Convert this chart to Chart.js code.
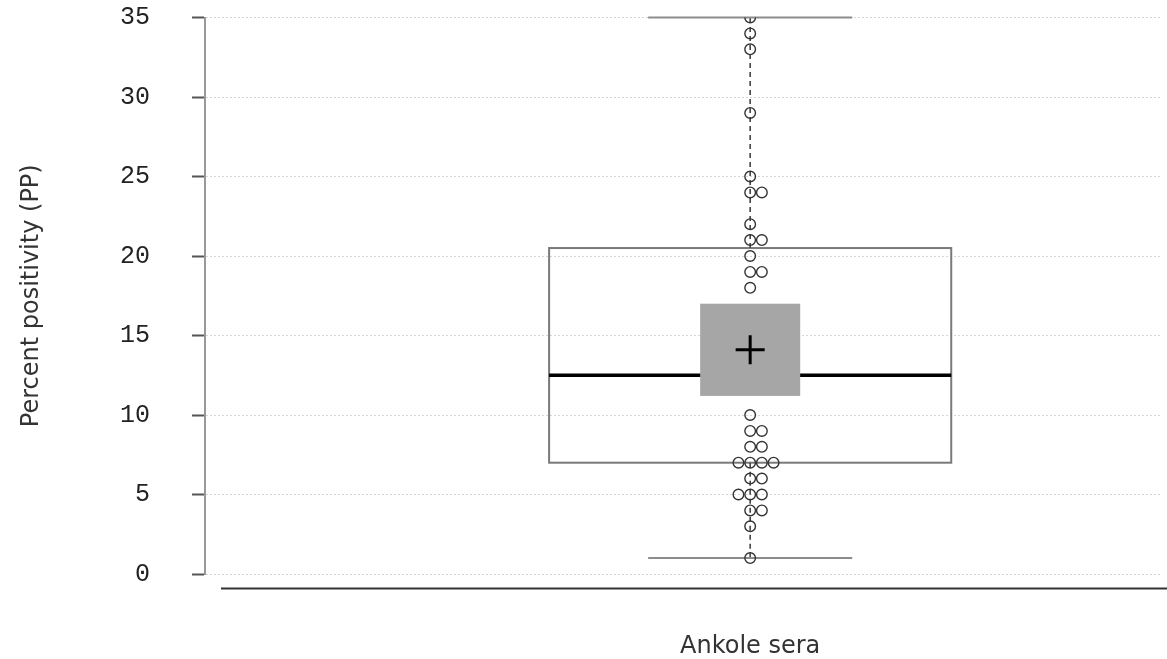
<!DOCTYPE html>
<html>
<head>
<meta charset="utf-8">
<script src="https://cdn.jsdelivr.net/npm/chart.js@4"></script>
<style>
  html, body { margin: 0; padding: 0; background: #fff; }
  canvas { display: block; }
</style>
</head>
<body>
<canvas id="chart" width="1167" height="659"></canvas>
<script>
var categories = ['Ankole sera'];
var values = [35, 34, 33, 29, 25, 24, 24, 22, 21, 21, 20, 19, 19, 18,
  10, 9, 9, 8, 8, 7, 7, 7, 7, 6, 6, 5, 5, 5, 4, 4, 3, 1];
var yTicks = [0, 5, 10, 15, 20, 25, 30, 35];

// summary
var whiskerLow = [1];
var q1 = [7];
var median = [12.5];
var q3 = [20.5];
var whiskerHigh = [35];
var mean = [14.1];
var ciLow = [11.2];
var ciHigh = [17.0];

var POINT_STEP = 0.117;
var BOX_HALF = 2.01;
var CAP_HALF = 1.02;
var CI_HALF = 0.5;
var CROSS_HALF = 0.145;

// little beeswarm: spread equal values side by side
var counts = {};
values.forEach(function(v){ counts[v] = (counts[v] || 0) + 1; });
var seen = {};
var points = values.map(function(v){
  var i = seen[v] || 0;
  seen[v] = i + 1;
  return { x: (i - Math.floor((counts[v] - 1) / 2)) * POINT_STEP, y: v };
});

var boxPlugin = {
  id: 'boxPlot',
  beforeDatasetsDraw: function(chart){
    var ctx = chart.ctx;
    var xs = chart.scales.x;
    var ys = chart.scales.y;
    var c = 0;
    var cx = xs.getPixelForValue(c);

    ctx.save();

    // box
    var bl = xs.getPixelForValue(c - BOX_HALF), br = xs.getPixelForValue(c + BOX_HALF);
    var top = ys.getPixelForValue(q3[c]), bot = ys.getPixelForValue(q1[c]);
    ctx.strokeStyle = '#7a7a7a';
    ctx.lineWidth = 2;
    ctx.strokeRect(bl, top, br - bl, bot - top);

    // median
    var my = ys.getPixelForValue(median[c]);
    ctx.strokeStyle = '#000';
    ctx.lineWidth = 3.5;
    ctx.beginPath();
    ctx.moveTo(bl, my);
    ctx.lineTo(br, my);
    ctx.stroke();

    // whiskers
    ctx.strokeStyle = '#444';
    ctx.lineWidth = 1.6;
    ctx.setLineDash([5, 4]);
    ctx.beginPath();
    ctx.moveTo(cx, top);
    ctx.lineTo(cx, ys.getPixelForValue(whiskerHigh[c]));
    ctx.moveTo(cx, bot);
    ctx.lineTo(cx, ys.getPixelForValue(whiskerLow[c]));
    ctx.stroke();
    ctx.setLineDash([]);

    // caps
    var cl = xs.getPixelForValue(c - CAP_HALF), cr = xs.getPixelForValue(c + CAP_HALF);
    ctx.strokeStyle = '#8c8c8c';
    ctx.lineWidth = 2;
    [whiskerHigh[c], whiskerLow[c]].forEach(function(v){
      var y = ys.getPixelForValue(v);
      ctx.beginPath();
      ctx.moveTo(cl, y);
      ctx.lineTo(cr, y);
      ctx.stroke();
    });

    // confidence box of the mean
    var il = xs.getPixelForValue(c - CI_HALF), ir = xs.getPixelForValue(c + CI_HALF);
    var it = ys.getPixelForValue(ciHigh[c]), ib = ys.getPixelForValue(ciLow[c]);
    ctx.fillStyle = '#a6a6a6';
    ctx.fillRect(il, it, ir - il, ib - it);

    // mean cross
    var mx = ys.getPixelForValue(mean[c]);
    var h = xs.getPixelForValue(c + CROSS_HALF) - cx;
    ctx.strokeStyle = '#000';
    ctx.lineWidth = 3;
    ctx.beginPath();
    ctx.moveTo(cx - h, mx);
    ctx.lineTo(cx + h, mx);
    ctx.moveTo(cx, mx - h);
    ctx.lineTo(cx, mx + h);
    ctx.stroke();

    ctx.restore();
  },
  afterDraw: function(chart){
    var ctx = chart.ctx;
    var area = chart.chartArea;
    var y = area.bottom + 14.5;
    ctx.save();
    ctx.strokeStyle = '#333';
    ctx.lineWidth = 2;
    ctx.beginPath();
    ctx.moveTo(area.left + 16, y);
    ctx.lineTo(chart.width, y);
    ctx.stroke();
    ctx.restore();
  }
};

var ctx = document.getElementById('chart').getContext('2d');
var chart = new Chart(ctx, {
  type: 'scatter',
  data: {
    datasets: [{
      label: categories[0],
      data: points,
      pointRadius: 5.3,
      pointHoverRadius: 5.3,
      pointBorderWidth: 1.4,
      pointBorderColor: '#333',
      pointBackgroundColor: 'rgba(0,0,0,0)'
    }]
  },
  options: {
    responsive: false,
    devicePixelRatio: 1,
    animation: false,
    events: [],
    layout: { padding: { top: 17.5, right: 2, left: 0, bottom: 0 } },
    plugins: {
      legend: { display: false },
      tooltip: { enabled: false }
    },
    scales: {
      x: {
        type: 'linear',
        min: -5.45,
        max: 4.1,
        grid: { display: false, drawTicks: false },
        border: { display: false },
        afterBuildTicks: function(scale){
          scale.ticks = categories.map(function(c, i){ return { value: i }; });
        },
        afterFit: function(scale){
          scale.height = 85;
          scale.paddingLeft = 0;
          scale.paddingRight = 0;
        },
        ticks: {
          autoSkip: false,
          maxRotation: 0,
          padding: 58,
          color: '#333',
          font: { family: 'DejaVu Sans', size: 24 },
          callback: function(v){ return categories[v]; }
        }
      },
      y: {
        min: 0,
        max: 35,
        afterBuildTicks: function(scale){
          scale.ticks = yTicks.map(function(v){ return { value: v }; });
        },
        afterFit: function(scale){
          scale.width = 205;
          scale.paddingTop = 0;
          scale.paddingBottom = 0;
        },
        grid: {
          color: '#d6d6d6',
          lineWidth: 1,
          drawTicks: true,
          tickLength: 13,
          tickColor: '#555',
          tickWidth: 2
        },
        border: { display: true, color: '#999', width: 2, dash: [2, 2] },
        ticks: {
          padding: 42,
          color: '#222',
          font: { family: 'Liberation Mono', size: 25 }
        },
        title: {
          display: true,
          text: 'Percent positivity (PP)',
          color: '#333',
          padding: { top: 17, bottom: 0 },
          font: { family: 'DejaVu Sans', size: 24 }
        }
      }
    }
  },
  plugins: [boxPlugin]
});
</script>
</body>
</html>
